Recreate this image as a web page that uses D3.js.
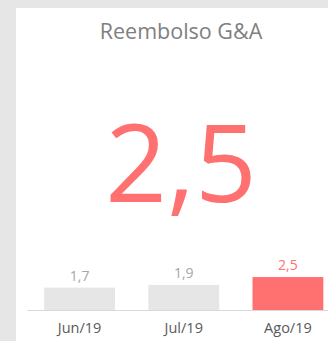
<!DOCTYPE html>
<html>
<head>
<meta charset="utf-8">
<script src="https://cdn.jsdelivr.net/npm/d3@7"></script>
<style>
  html, body { margin: 0; padding: 0; background: #e7e6e6; overflow: hidden; }
  svg { display: block; }
</style>
</head>
<body>
<script>
// KPI card: big current value plus a small monthly bar history
const months = ["Jun/19", "Jul/19", "Ago/19"];
const values = [1.7, 1.9, 2.5];
const title = "Reembolso G&A";

const W = 328, H = 341;
const fmt = v => d3.format(".1f")(v).replace(".", ",");

const svg = d3.select("body").append("svg")
  .attr("width", W).attr("height", H);

// white card
svg.append("rect")
  .attr("x", 16).attr("y", 8)
  .attr("width", 340).attr("height", 360)
  .attr("fill", "#ffffff");

const cx = 181;
const font = "'Open Sans', sans-serif";

svg.append("text")
  .attr("x", cx).attr("y", 38.5)
  .attr("text-anchor", "middle")
  .attr("font-family", font).attr("font-size", 21.5)
  .attr("fill", "#7f7f7f")
  .text(title);

const current = values[values.length - 1];
svg.append("text")
  .attr("x", cx).attr("y", 202)
  .attr("text-anchor", "middle")
  .attr("font-family", font).attr("font-size", 108)
  .attr("fill", "#ff7171")
  .text(fmt(current));

// bar history
const x = d3.scaleBand().domain(months).range([27.5, 340]).paddingInner(0.32).paddingOuter(0.16);
const y = d3.scaleLinear().domain([0, 3.2]).range([310, 267.8]);

const g = svg.append("g");
g.selectAll("rect.bar").data(values).join("rect")
  .attr("class", "bar")
  .attr("x", (d, i) => x(months[i]))
  .attr("width", x.bandwidth())
  .attr("y", d => y(d))
  .attr("height", d => y(0) - y(d))
  .attr("fill", (d, i) => i === values.length - 1 ? "#ff7171" : "#e7e6e6");

g.selectAll("text.val").data(values).join("text")
  .attr("class", "val")
  .attr("x", (d, i) => x(months[i]) + x.bandwidth() / 2)
  .attr("y", d => y(d) - 7)
  .attr("text-anchor", "middle")
  .attr("font-family", font).attr("font-size", 14)
  .attr("fill", (d, i) => i === values.length - 1 ? "#ff7171" : "#a6a6a6")
  .text(d => fmt(d));

const xAxis = svg.append("g")
  .attr("transform", `translate(0,${y(0)})`)
  .call(d3.axisBottom(x).tickSize(0).tickPadding(13));
xAxis.select(".domain").attr("stroke", "#d9d9d9").attr("d", "M27.5,0.5H340");
xAxis.selectAll("text")
  .attr("font-family", font).attr("font-size", 14.5)
  .attr("fill", "#595959");
</script>
</body>
</html>
